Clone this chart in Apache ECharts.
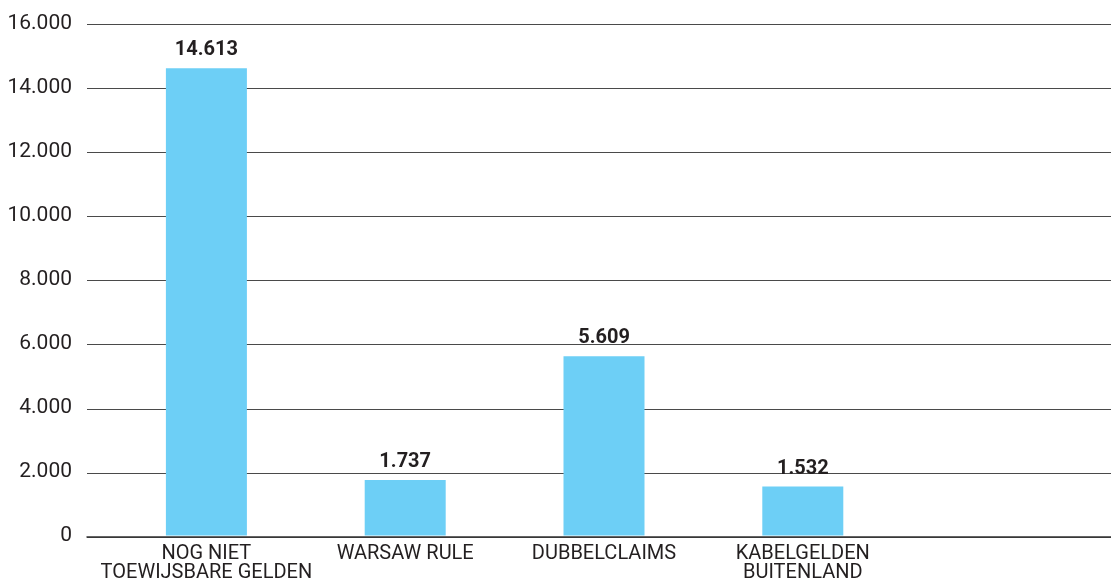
<!DOCTYPE html>
<html><head><meta charset="utf-8">
<script src="https://cdn.jsdelivr.net/npm/echarts@6/dist/echarts.min.js"></script>
<style>html,body{margin:0;padding:0;background:#fff}#c{width:1111px;height:583px}</style>
</head><body><div id="c"></div>
<script>
var categories = ['NOG NIET\nTOEWIJSBARE GELDEN', 'WARSAW RULE', 'DUBBELCLAIMS', 'KABELGELDEN\nBUITENLAND', ''];
var values = [14613, 1737, 5609, 1532, null];
var yMin = 0, yMax = 16000, yStep = 2000;

function fmt(v) {
  return String(Math.round(v)).replace(/\B(?=(\d{3})+(?!\d))/g, '.');
}
var FONT = 'Roboto';
var TXT = '#231f20';
var chart = echarts.init(document.getElementById('c'));
chart.setOption({
  animation: false,
  grid: [
    {left: 87, right: 0, top: 24, bottom: 46},
    {left: 107, right: 10, top: 24, bottom: 46}
  ],
  xAxis: [
    {gridIndex: 0, type: 'category', data: categories, axisLine: {show: true, lineStyle: {color: '#333', width: 1.5}},
     axisTick: {show: false}, axisLabel: {show: false}},
    {gridIndex: 1, type: 'category', data: categories, axisLine: {show: false}, axisTick: {show: false},
     axisLabel: {interval: 0, margin: 9, color: TXT, fontFamily: FONT, fontWeight: 'normal', fontSize: 20, lineHeight: 19}}
  ],
  yAxis: [
    {gridIndex: 0, type: 'value', min: yMin, max: yMax, interval: yStep,
     axisLine: {show: false}, axisTick: {show: false},
     axisLabel: {show: false},
     splitLine: {show: true, lineStyle: {color: '#4a4a4a', width: 1}}},
    {gridIndex: 1, type: 'value', min: yMin, max: yMax, interval: yStep,
     axisLine: {show: false}, axisTick: {show: false},
     axisLabel: {margin: 35, color: TXT, fontFamily: FONT, fontWeight: 'normal', fontSize: 21, formatter: fmt},
     splitLine: {show: false}}
  ],
  series: [{
    type: 'bar', xAxisIndex: 1, yAxisIndex: 1, data: values, barWidth: 81,
    itemStyle: {color: '#6dcff6'},
    label: {show: true, position: 'top', distance: 8, color: TXT, fontFamily: FONT, fontWeight: 'bold', fontSize: 20,
      formatter: function (p) { return fmt(p.value); }}
  }]
});
</script></body></html>
